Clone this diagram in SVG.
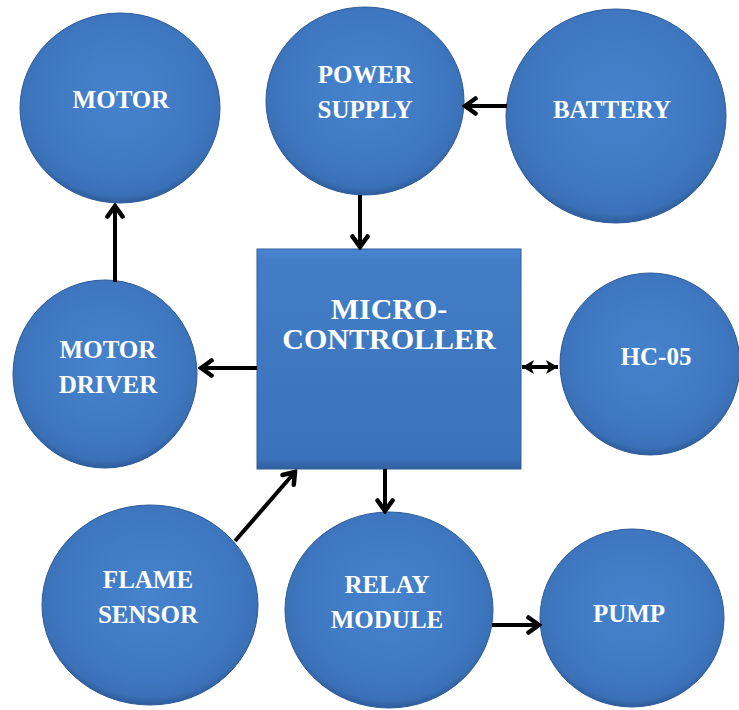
<svg xmlns="http://www.w3.org/2000/svg" width="739" height="710" viewBox="0 0 739 710">
<defs>
<radialGradient id="ball" cx="50%" cy="45%" r="55%">
<stop offset="0" stop-color="#4683cd"/>
<stop offset="0.78" stop-color="#3e77c0"/>
<stop offset="0.93" stop-color="#3a70b6"/>
<stop offset="1" stop-color="#2d5c9c"/>
</radialGradient>
<linearGradient id="box" x1="0" y1="0" x2="0" y2="1">
<stop offset="0" stop-color="#4a86d0"/>
<stop offset="0.05" stop-color="#427dc6"/>
<stop offset="0.95" stop-color="#3b73bb"/>
<stop offset="1" stop-color="#2f5f9f"/>
</linearGradient>
<marker id="arr" viewBox="0 0 16 20" refX="13" refY="10" markerWidth="16" markerHeight="20" markerUnits="userSpaceOnUse" orient="auto-start-reverse">
<path d="M2.5,2.5 L13,10 L2.5,17.5" fill="none" stroke="#000" stroke-width="4.5" stroke-linejoin="miter" stroke-linecap="round"/>
</marker>
<marker id="sm" viewBox="0 0 12 14" refX="12" refY="7" markerWidth="12" markerHeight="14" markerUnits="userSpaceOnUse" orient="auto-start-reverse">
<path d="M0,0 L12,7 L0,14 L3,7 Z" fill="#000"/>
</marker>
</defs>
<style>
.n{fill:url(#ball);stroke:#2d5a98;stroke-width:1}
.t{font-family:"Liberation Serif","Times New Roman",serif;font-weight:bold;font-size:25px;fill:#fff;text-anchor:middle}
.big{font-size:30px}
.c{fill:none;stroke:#000;stroke-width:4}
</style>
<rect width="739" height="710" fill="#fff"/>
<g id="motor"><ellipse class="n" cx="120" cy="108" rx="100" ry="95"/><text class="t" x="121" y="108">MOTOR</text></g>
<g id="power-supply"><ellipse class="n" cx="365" cy="101" rx="99" ry="94"/><text class="t" x="365" y="83">POWER</text><text class="t" x="365" y="118">SUPPLY</text></g>
<g id="battery"><ellipse class="n" cx="616" cy="116" rx="110" ry="107"/><text class="t" x="612" y="118">BATTERY</text></g>
<g id="motor-driver"><ellipse class="n" cx="105" cy="374" rx="92" ry="94"/><text class="t" x="108" y="358">MOTOR</text><text class="t" x="108" y="393">DRIVER</text></g>
<g id="microcontroller"><rect x="257" y="249" width="264" height="220" fill="url(#box)" stroke="#2f5f9f" stroke-width="1"/><text class="t big" x="389" y="319">MICRO-</text><text class="t big" x="389" y="349">CONTROLLER</text></g>
<g id="hc05"><ellipse class="n" cx="650" cy="364" rx="90" ry="91"/><text class="t" x="656" y="365">HC-05</text></g>
<g id="flame-sensor"><ellipse class="n" cx="150" cy="605" rx="108" ry="100"/><text class="t" x="148" y="588">FLAME</text><text class="t" x="148" y="623">SENSOR</text></g>
<g id="relay-module"><ellipse class="n" cx="389" cy="610" rx="104" ry="98"/><text class="t" x="387" y="593">RELAY</text><text class="t" x="387" y="628">MODULE</text></g>
<g id="pump"><ellipse class="n" cx="632" cy="618" rx="92" ry="89"/><text class="t" x="629" y="622">PUMP</text></g>
<g id="connectors">
<line class="c" x1="507" y1="106" x2="465" y2="106" marker-end="url(#arr)"/>
<line class="c" x1="360" y1="195" x2="360" y2="247" marker-end="url(#arr)"/>
<line class="c" x1="115" y1="282" x2="115" y2="206" marker-end="url(#arr)"/>
<line class="c" x1="257" y1="368" x2="201" y2="368" marker-end="url(#arr)"/>
<line class="c" x1="522" y1="367" x2="558" y2="367" marker-start="url(#sm)" marker-end="url(#sm)"/>
<line class="c" x1="235" y1="541" x2="295" y2="472" marker-end="url(#arr)"/>
<line class="c" x1="385" y1="469" x2="385" y2="511" marker-end="url(#arr)"/>
<line class="c" x1="492" y1="625" x2="539" y2="625" marker-end="url(#arr)"/>
</g>
</svg>
